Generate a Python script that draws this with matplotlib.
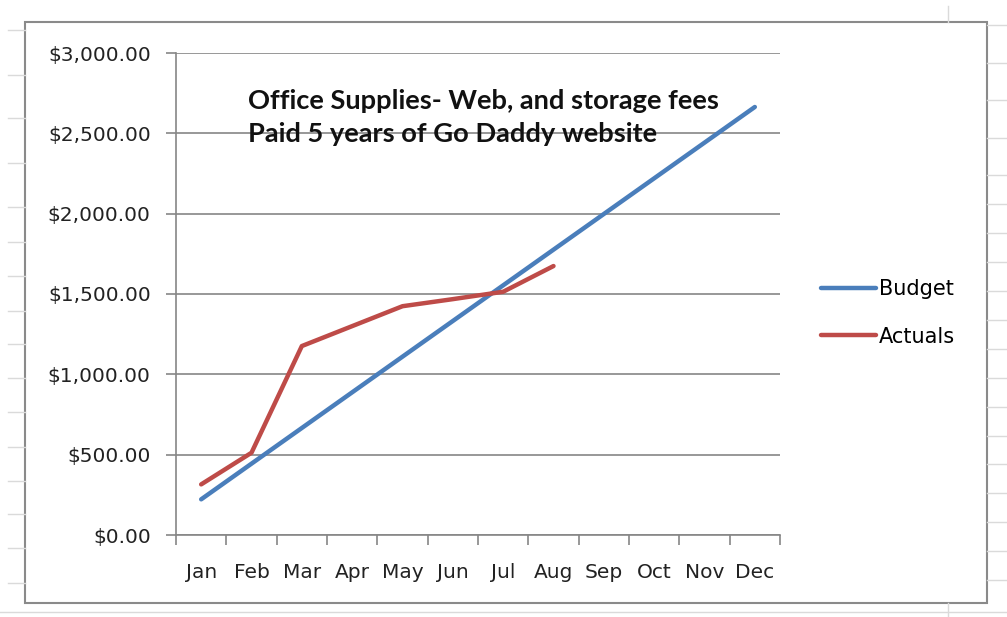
import matplotlib.pyplot as plt
from matplotlib.lines import Line2D
from matplotlib.patches import Rectangle
from matplotlib.ticker import FuncFormatter, FixedLocator

months = ["Jan", "Feb", "Mar", "Apr", "May", "Jun", "Jul", "Aug", "Sep", "Oct", "Nov", "Dec"]
budget = [222, 444, 666, 888, 1110, 1332, 1554, 1776, 1998, 2220, 2442, 2664]
actuals = [315, 512, 1176, 1300, 1424, 1468, 1514, 1674]
note = "Office Supplies- Web, and storage fees\nPaid 5 years of Go Daddy website"

W, H = 1007, 617
fig = plt.figure(figsize=(W / 100, H / 100), dpi=100)

# faint spreadsheet cells behind the chart
grid_c = "#dadada"
for y in [30, 75, 118, 163, 207, 242, 276, 311, 344, 378, 412, 447, 481, 514, 548, 583]:
    fig.add_artist(Line2D([8 / W, 25 / W], [1 - y / H] * 2, color=grid_c, lw=1))
for y in [25, 63, 100, 138, 175, 204, 233, 262, 291, 320, 349, 378, 407, 436, 464, 493, 522, 551, 580]:
    fig.add_artist(Line2D([987 / W, 1.0], [1 - y / H] * 2, color=grid_c, lw=1))
fig.add_artist(Line2D([948 / W] * 2, [1 - 6 / H, 1 - 22 / H], color=grid_c, lw=1))
fig.add_artist(Line2D([948 / W] * 2, [0, 1 - 603 / H], color=grid_c, lw=1))
fig.add_artist(Line2D([0, 1], [1 - 612 / H] * 2, color=grid_c, lw=1))

# chart border
fig.add_artist(Rectangle((25 / W, 1 - 603 / H), 962 / W, 581 / H, fill=False,
                         edgecolor="#8a8a8a", lw=1.5))

ax = fig.add_axes([176 / W, 82 / H, 604 / W, 482 / H])
x = list(range(len(months)))
ax.plot(x, budget, color="#4A7EBB", lw=3.2, label="Budget", solid_capstyle="round")
ax.plot(x[:len(actuals)], actuals, color="#BE4B48", lw=3.2, label="Actuals", solid_capstyle="round")

ax.set_xlim(-0.5, 11.5)
ax.set_ylim(0, 3000)
ax.set_yticks([0, 500, 1000, 1500, 2000, 2500, 3000])
ax.yaxis.set_major_formatter(FuncFormatter(lambda v, p: "${:,.2f}".format(v)))
ax.yaxis.grid(True, color="#868686", lw=1.2)
ax.set_axisbelow(True)

ax.set_xticks(x)
ax.set_xticklabels(months)
ax.xaxis.set_minor_locator(FixedLocator([i - 0.5 for i in range(13)]))
ax.tick_params(axis="x", which="major", length=0, pad=20)
ax.tick_params(axis="x", which="minor", length=7.2, color="#868686", width=1.2)
ax.tick_params(axis="y", length=7.2, color="#868686", width=1.2, pad=11)
for lab in ax.get_xticklabels() + ax.get_yticklabels():
    lab.set_fontfamily("DejaVu Sans")
    lab.set_fontsize(14.5)
    lab.set_color("#222222")

for s in ["top", "right"]:
    ax.spines[s].set_visible(False)
for s in ["left", "bottom"]:
    ax.spines[s].set_color("#868686")
    ax.spines[s].set_linewidth(1.2)

ax.text((248 - 176) / 604, (535 - 89) / 482, note, transform=ax.transAxes,
        fontfamily="Lato", fontweight="bold", fontsize=19.6, va="top", ha="left",
        linespacing=1.45, color="#111111")

leg = ax.legend(loc="center left", bbox_to_anchor=(802 / W, 1 - 313 / H),
                bbox_transform=fig.transFigure, frameon=False,
                handlelength=2.65, handletextpad=0.15, labelspacing=1.3,
                prop={"family": "DejaVu Sans", "size": 15})

fig.savefig("out.png", dpi=100, facecolor="white")
